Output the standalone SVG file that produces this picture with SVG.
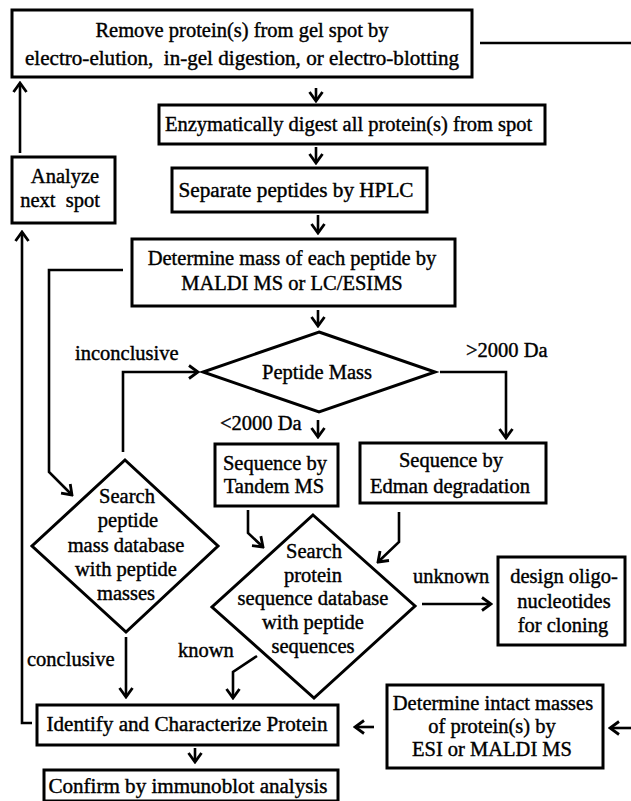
<svg xmlns="http://www.w3.org/2000/svg" width="631" height="801" viewBox="0 0 631 801">
<defs>
<style>
.box{fill:#fff;stroke:#000;stroke-width:3}
.t{font-family:"Liberation Serif","Times New Roman",serif;font-size:20.5px;fill:#000;stroke:#000;stroke-width:0.4;text-anchor:middle;white-space:pre}
.l{text-anchor:start}
.c{fill:none;stroke:#000;stroke-width:2.6;stroke-linejoin:miter}
.a{marker-end:url(#ah)}
</style>
<marker id="ah" viewBox="-12 -9 14 18" refX="0" refY="0" markerWidth="14" markerHeight="18" markerUnits="userSpaceOnUse" orient="auto">
<path d="M-9,-6.5 L0,0 L-9,6.5" fill="none" stroke="#000" stroke-width="2.8"/>
</marker>
</defs>
<rect width="631" height="801" fill="#fff"/>

<g id="connectors">
<line class="c" x1="480" y1="43" x2="631" y2="43"/>
<line class="c a" x1="316" y1="88" x2="316" y2="101"/>
<line class="c a" x1="316" y1="147" x2="316" y2="163"/>
<line class="c a" x1="318" y1="215" x2="318" y2="233"/>
<line class="c a" x1="318" y1="310" x2="318" y2="326"/>
<line class="c a" x1="20" y1="153" x2="20" y2="83"/>
<polyline class="c a" points="32,723 22,723 22,232"/>
<polyline class="c a" points="123,270 49,270 49,472 72,495"/>
<polyline class="c a" points="123,452 123,372 198,372"/>
<polyline class="c a" points="440,372 506,372 506,438"/>
<line class="c a" x1="318" y1="420" x2="318" y2="437"/>
<polyline class="c a" points="248,510 248,533 263,547"/>
<polyline class="c a" points="399,512 399,542 378,562"/>
<line class="c a" x1="126" y1="637" x2="126" y2="697"/>
<polyline class="c a" points="257,656 233,672 233,698"/>
<line class="c a" x1="422" y1="604" x2="491" y2="604"/>
<line class="c a" x1="374" y1="727" x2="355" y2="727"/>
<line class="c a" x1="631" y1="728" x2="610" y2="728"/>
<line class="c a" x1="195" y1="748" x2="195" y2="762"/>
</g>

<g id="labels">
<text class="t l" x="75" y="360">inconclusive</text>
<text class="t l" x="466" y="357">&gt;2000 Da</text>
<text class="t l" x="220" y="430">&lt;2000 Da</text>
<text class="t l" x="413" y="583">unknown</text>
<text class="t l" x="178" y="657">known</text>
<text class="t l" x="27" y="666">conclusive</text>
</g>

<g id="n-remove">
<rect class="box" x="12" y="10" width="460" height="67"/>
<text class="t" x="242" y="37">Remove protein(s) from gel spot by</text>
<text class="t" x="242" y="65" textLength="434" lengthAdjust="spacingAndGlyphs">electro-elution,  in-gel digestion, or electro-blotting</text>
</g>
<g id="n-digest">
<rect class="box" x="159" y="105" width="386" height="39"/>
<text class="t l" x="165" y="131">Enzymatically digest all protein(s) from spot</text>
</g>
<g id="n-separate">
<rect class="box" x="172" y="168" width="255" height="44"/>
<text class="t" x="296" y="197" textLength="235" lengthAdjust="spacingAndGlyphs">Separate peptides by HPLC</text>
</g>
<g id="n-analyze">
<rect class="box" x="12" y="157" width="103" height="66"/>
<text class="t" x="65" y="183">Analyze</text>
<text class="t" x="60" y="207">next  spot</text>
</g>
<g id="n-determine">
<rect class="box" x="132" y="239" width="323" height="67"/>
<text class="t" x="292" y="265">Determine mass of each peptide by</text>
<text class="t" x="292" y="290">MALDI MS or LC/ESIMS</text>
</g>
<g id="n-peptidemass">
<polygon class="box" points="319,332 435,372 319,412 203,372"/>
<text class="t" x="317" y="379">Peptide Mass</text>
</g>
<g id="n-tandem">
<rect class="box" x="215" y="444" width="123" height="62"/>
<text class="t" x="275" y="470">Sequence by</text>
<text class="t" x="274" y="493">Tandem MS</text>
</g>
<g id="n-edman">
<rect class="box" x="360" y="443" width="186" height="60"/>
<text class="t" x="451" y="467">Sequence by</text>
<text class="t" x="450" y="493">Edman degradation</text>
</g>
<g id="n-searchpep">
<polygon class="box" points="125,460 218,546 126,632 32,546"/>
<text class="t" x="127" y="503">Search</text>
<text class="t" x="128" y="527">peptide</text>
<text class="t" x="126" y="552">mass database</text>
<text class="t" x="126" y="576">with peptide</text>
<text class="t" x="126" y="600">masses</text>
</g>
<g id="n-searchprot">
<polygon class="box" points="313,515 415,606 314,698 212,607"/>
<text class="t" x="314" y="558">Search</text>
<text class="t" x="313" y="582">protein</text>
<text class="t" x="313" y="605">sequence database</text>
<text class="t" x="313" y="629">with peptide</text>
<text class="t" x="313" y="653">sequences</text>
</g>
<g id="n-design">
<rect class="box" x="498" y="557" width="127" height="88"/>
<text class="t" x="564" y="583">design oligo-</text>
<text class="t" x="564" y="608">nucleotides</text>
<text class="t" x="563" y="632">for cloning</text>
</g>
<g id="n-identify">
<rect class="box" x="37" y="705" width="301" height="40"/>
<text class="t" x="187" y="731" textLength="281" lengthAdjust="spacingAndGlyphs">Identify and Characterize Protein</text>
</g>
<g id="n-intact">
<rect class="box" x="387" y="685" width="216" height="83"/>
<text class="t" x="493" y="710">Determine intact masses</text>
<text class="t" x="492" y="733">of protein(s) by</text>
<text class="t" x="492" y="756">ESI or MALDI MS</text>
</g>
<g id="n-confirm">
<rect class="box" x="44" y="770" width="294" height="31"/>
<text class="t" x="188" y="793" textLength="279" lengthAdjust="spacingAndGlyphs">Confirm by immunoblot analysis</text>
</g>
</svg>
